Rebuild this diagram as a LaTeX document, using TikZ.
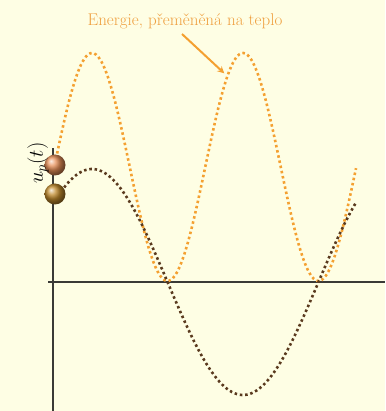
\documentclass[tikz,border=0pt]{standalone}
\usepackage{tikz}
\usetikzlibrary{shadings}
\definecolor{paper}{HTML}{FEFEE4}
\definecolor{heat}{HTML}{F4A030}
\definecolor{heattext}{HTML}{EFA040}
\definecolor{volt}{HTML}{5A3A1E}
\definecolor{axis}{HTML}{3A3A36}
\definecolor{topball}{HTML}{E89058}
\definecolor{lowball}{HTML}{C08A2C}

\begin{document}
\begin{tikzpicture}[
  x=1pt, y=-1pt,
  line join=round,
  every node/.style={inner sep=1pt},
  axis/.style={draw=axis, line width=1.2pt},
  heatcurve/.style={draw=heat, line width=2.6pt, dash pattern=on 2.5pt off 2.8pt},
  voltcurve/.style={draw=volt, line width=2.6pt, dash pattern=on 2.5pt off 2.8pt},
  pointer/.style={draw=heat, line width=2pt, -stealth, shorten >=1pt},
  marble/.style={circle, minimum size=21pt, inner sep=0pt, shading=ball},
]
\fill[paper] (0,0) rectangle (385,411);
\useasboundingbox (0,0) rectangle (385,411);

% axes
\coordinate (ytop) at (53,148);
\coordinate (ybot) at (53,411);
\coordinate (xleft) at (48,282);
\coordinate (xright) at (385,282);
\draw[axis] (ybot) -- (ytop);
\draw[axis] (xleft) -- (xright);

% energy turned into heat and the voltage
\draw[heatcurve] plot[domain=56:356, samples=150, smooth]
  (\x, {167-114*cos(2.3841*(\x-92))});
\draw[voltcurve] plot[domain=61:356, samples=120, smooth]
  (\x, {282-113*cos(1.19205*(\x-92))});

\node[marble, ball color=topball] (up) at (55,165) {};
\node[marble, ball color=lowball] (low) at (55,194) {};

\node[rotate=90, font=\fontsize{20}{24}\selectfont] (ulabel) at (38,163) {$u_p(t)$};

\node[text=heattext, font=\fontsize{17}{20}\selectfont] (title) at (185,21) {Energie, přeměněná na teplo};
\coordinate (tail) at (182,34);
\coordinate (hot) at (225,74);
\draw[pointer] (tail) -- (hot);
\end{tikzpicture}
\end{document}
